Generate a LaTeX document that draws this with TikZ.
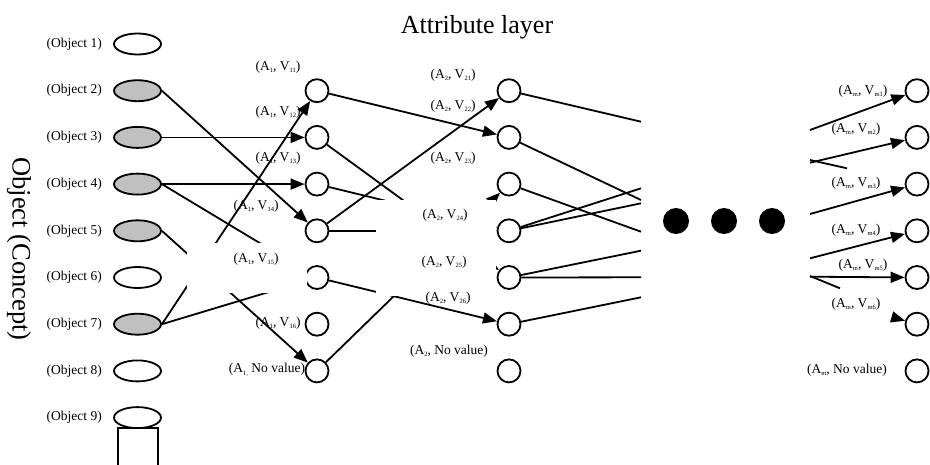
\documentclass[tikz,border=0pt]{standalone}
\usepackage{fontspec}
\setmainfont{Liberation Serif}
\usetikzlibrary{arrows.meta,shapes.geometric}
\definecolor{objgray}{RGB}{192,192,192}
\newcommand\lsub[1]{\raisebox{-0.4ex}{\fontsize{6.5}{6.5}\selectfont #1}}
\begin{document}
\begin{tikzpicture}[x=1pt,y=-1pt,
  obj/.style={ellipse, draw, line width=1.8pt, minimum width=47pt, minimum height=21pt, inner sep=0pt},
  objf/.style={obj, fill=objgray},
  val/.style={circle, draw, line width=1.8pt, minimum size=23pt, inner sep=0pt},
  lab/.style={font=\fontsize{13.5}{14}\selectfont, inner sep=0pt},
  conn/.style={line width=1.8pt},
  arr/.style={conn, -{Triangle[length=14pt,width=11pt]}},
  mask/.style={fill=white, draw=none},
  bigdot/.style={circle, fill=black, minimum size=26pt, inner sep=0pt}]
\useasboundingbox (0,0) rectangle (930,464);
\clip (0,0) rectangle (930,464);

% titles
\node[font=\fontsize{26}{28}\selectfont] (title) at (477,27) {Attribute layer};
\node[font=\fontsize{26.5}{28}\selectfont, rotate=-90] (axis) at (19,249) {Object (Concept)};

% objects
\node[obj]  (o1) at (137.5,44)    {};
\node[objf] (o2) at (137.5,90.7)  {};
\node[objf] (o3) at (137.5,137.4) {};
\node[objf] (o4) at (137.5,184.1) {};
\node[objf] (o5) at (137.5,230.8) {};
\node[obj]  (o6) at (137.5,277.5) {};
\node[objf] (o7) at (137.5,324.2) {};
\node[obj]  (o8) at (137.5,370.9) {};
\node[obj]  (o9) at (137.5,417.6) {};
\draw[line width=1.8pt] (118.3,428.3) rectangle (158.3,480);

\foreach \i/\y in {1/44,2/90.7,3/137.4,4/184.1,5/230.8,6/277.5,7/324.2,8/370.9,9/417.6}
  \node[lab, anchor=east] (lo\i) at (102,\y) {(Object \i)};

% value columns
\foreach \i/\y in {1/90.7,2/137.4,3/184.1,4/230.8,5/277.5,6/324.2,7/370.9} {
  \node[val] (a\i) at (317,\y) {};
  \node[val] (b\i) at (509,\y) {};
  \node[val] (m\i) at (917,\y) {};
}

% objects -> A1
\draw[arr] (o2.east) -- (a4);
\draw[arr] (o3.east) -- (a2);
\draw[arr] (o4.east) -- (a3);
\draw[arr] (o4.east) -- (a5);
\draw[arr] (o5.east) -- (a7);
\draw[arr] (o7.east) -- (a1);
\draw[arr] (o7.east) -- (a5);

% A1 -> A2
\draw[arr] (a1) -- (b2);
\draw[arr] (a2) -- (b5);
\draw[arr] (a3) -- (b4);
\draw[arr] (a4) -- (b1);
\draw[arr] (a4) -- (b4);
\draw[arr] (a5) -- (b6);
\draw[arr] (a7) -- (b3);

% A2 -> hidden middle
\coordinate (e1)  at (641,121.7);
\coordinate (e2)  at (641,200);
\coordinate (e3)  at (641,231.7);
\coordinate (e4a) at (641,188.3);
\coordinate (e4b) at (641,203.3);
\coordinate (e5a) at (641,250.7);
\coordinate (e5b) at (641,277.3);
\coordinate (e6)  at (641,297.3);
\draw[conn] (b1) -- (e1);
\draw[conn] (b2) -- (e2);
\draw[conn] (b3) -- (e3);
\draw[conn] (b4) -- (e4a);
\draw[conn] (b4) -- (e4b);
\draw[conn] (b5) -- (e5a);
\draw[conn] (b5) -- (e5b);
\draw[conn] (b6) -- (e6);

% hidden middle -> Am
\coordinate (s1) at (810,130);
\coordinate (s2) at (810,162.7);
\coordinate (s3) at (810,214);
\coordinate (s4) at (810,258.3);
\coordinate (s5) at (810,276.7);
\coordinate (s6) at (892,317);
\coordinate (f1a) at (810,160);
\coordinate (f1b) at (847,168.3);
\coordinate (f2a) at (810,276);
\coordinate (f2b) at (840,288.3);
\draw[arr] (s1) -- (m1);
\draw[arr] (s2) -- (m2);
\draw[arr] (s3) -- (m3);
\draw[arr] (s4) -- (m4);
\draw[arr] (s5) -- (m5);
\draw[arr] (s6) -- (m6);
\draw[conn] (f1a) -- (f1b);
\draw[conn] (f2a) -- (f2b);

% white label boxes covering lines
\fill[mask] (187,243) rectangle (307,293);
\fill[mask] (376,200) rectangle (496,296);

% dots
\node[bigdot] (d1) at (676,221) {};
\node[bigdot] (d2) at (724,221) {};
\node[bigdot] (d3) at (772,221) {};

% labels column A1
\node[lab] (la1) at (278,67)  {(A\lsub{1}, V\lsub{11})};
\node[lab] (la2) at (278,112) {(A\lsub{1}, V\lsub{12})};
\node[lab] (la3) at (278,158) {(A\lsub{1}, V\lsub{13})};
\node[lab] (la4) at (256,206) {(A\lsub{1}, V\lsub{14})};
\node[lab] (la5) at (256,259) {(A\lsub{1}, V\lsub{15})};
\node[lab] (la6) at (278,323) {(A\lsub{1}, V\lsub{16})};
\node[lab] (la7) at (267,370) {(A\lsub{1,} No value)};

% labels column A2
\node[lab] (lb1) at (453,75)  {(A\lsub{2}, V\lsub{21})};
\node[lab] (lb2) at (453,106) {(A\lsub{2}, V\lsub{22})};
\node[lab] (lb3) at (453,158) {(A\lsub{2}, V\lsub{23})};
\node[lab] (lb4) at (445,215) {(A\lsub{2}, V\lsub{24})};
\node[lab] (lb5) at (444,262) {(A\lsub{2}, V\lsub{25})};
\node[lab] (lb6) at (448,298) {(A\lsub{2}, V\lsub{26})};
\node[lab] (lb7) at (449,351) {(A\lsub{2}, No value)};

% labels column Am
\node[lab] (lm1) at (863,91)  {(A\lsub{m}, V\lsub{m1})};
\node[lab] (lm2) at (856,129) {(A\lsub{m}, V\lsub{m2})};
\node[lab] (lm3) at (856,183) {(A\lsub{m}, V\lsub{m3})};
\node[lab] (lm4) at (856,230) {(A\lsub{m}, V\lsub{m4})};
\node[lab] (lm5) at (863,265) {(A\lsub{m}, V\lsub{m5})};
\node[lab] (lm6) at (856,304) {(A\lsub{m}, V\lsub{m6})};
\node[lab] (lm7) at (847,370) {(A\lsub{m}, No value)};
\end{tikzpicture}
\end{document}
